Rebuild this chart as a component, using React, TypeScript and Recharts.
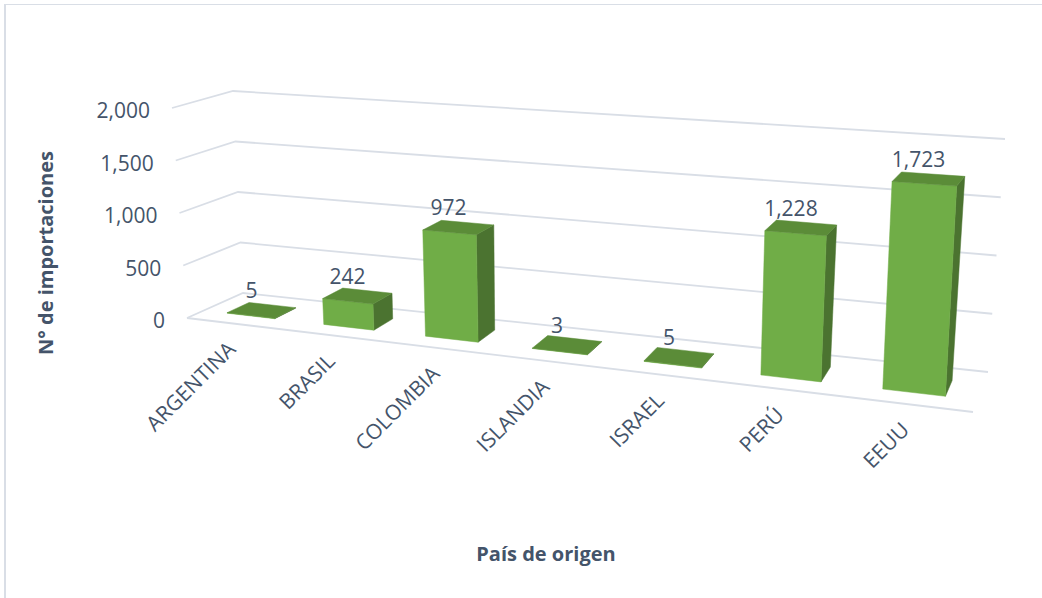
import React from 'react';
import { BarChart, Bar, XAxis, YAxis, CartesianGrid, LabelList } from 'recharts';

// ---------- data ----------
const countries = ['ARGENTINA', 'BRASIL', 'COLOMBIA', 'ISLANDIA', 'ISRAEL', 'PERÚ', 'EEUU'];
const imports = [5, 242, 972, 3, 5, 1228, 1723];
const yTicks = [0, 500, 1000, 1500, 2000];
const xTitle = 'País de origen';
const yTitle = 'N° de importaciones';

const data = countries.map((c, i) => ({ country: c, value: imports[i] }));

// ---------- layout ----------
const W = 1042;
const H = 598;
const AX = 2; // axis thickness reserved by recharts
const M = { top: 100, right: 100, bottom: 100 - AX, left: 100 - AX };
const PL = 100;
const PT = 100;
const PW = W - 200;
const PH = H - 200;

type Pt = [number, number];
// perspective box corners (front/back, bottom/top, left/right)
const F0L: Pt = [187, 318];
const F0R: Pt = [973, 412];
const F1L: Pt = [172, 108];
const F1R: Pt = [986, 161];
const B0L: Pt = [243, 293];
const B0R: Pt = [988, 372];
const B1L: Pt = [233, 91];
const B1R: Pt = [1005, 139];
const WARP = 0.16;
const D0 = 0.3;
const D1 = 0.7;

const TEXT = '#44546A';
const GRID = '#D9DEE6';
const FONT = '"Open Sans", "Noto Sans", sans-serif';
const FRONT = '#70AD47';
const TOP = '#5B8C38';
const SIDE = '#4B7330';

const lerp = (a: Pt, b: Pt, t: number): Pt => [a[0] + (b[0] - a[0]) * t, a[1] + (b[1] - a[1]) * t];
function proj(s: number, v: number, d: number): Pt {
  const t = s - WARP * s * (1 - s);
  const f0 = lerp(F0L, F0R, t);
  const f1 = lerp(F1L, F1R, t);
  const b0 = lerp(B0L, B0R, t);
  const b1 = lerp(B1L, B1R, t);
  const f = lerp(f0, f1, v);
  const b = lerp(b0, b1, v);
  return lerp(f, b, d);
}
const sOf = (x: number) => (x - PL) / PW;
const vOf = (y: number) => (PT + PH - y) / PH;
const pts = (arr: Pt[]) => arr.map((p) => `${p[0].toFixed(2)},${p[1].toFixed(2)}`).join(' ');
const fmt = (n: number) => Number(n).toLocaleString('en-US');

const GridLine = (props: any) => {
  const v = vOf(Number(props.y1));
  const a = proj(0, v, 0);
  const b = proj(0, v, 1);
  const c = proj(1, v, 1);
  const isFloor = Math.abs(v) < 1e-6;
  return (
    <g key={`g-${props.index}`}>
      <polyline points={pts([a, b, c])} fill="none" stroke={GRID} strokeWidth={1.8} />
      {isFloor && <polyline points={pts([a, proj(1, 0, 0)])} fill="none" stroke={GRID} strokeWidth={1.8} />}
    </g>
  );
};

const YTick = (props: any) => {
  const v = vOf(Number(props.y));
  const p = proj(0, v, 0);
  return (
    <text x={p[0] - 22} y={p[1] + 2} textAnchor="end" dominantBaseline="central" fill={TEXT} fontSize={21} fontFamily={FONT}>
      {fmt(props.payload.value)}
    </text>
  );
};

const XTick = (props: any) => {
  const p = proj(sOf(Number(props.x)), 0, 0);
  const ax = p[0] + 2;
  const ay = p[1] + 27;
  return (
    <text x={ax} y={ay} textAnchor="end" transform={`rotate(-45 ${ax} ${ay})`} fill={TEXT} fontSize={21} fontFamily={FONT}>
      {props.payload.value}
    </text>
  );
};

const Box3D = (props: any) => {
  const x = Number(props.x);
  const y = Number(props.y);
  const w = Number(props.width);
  const h = Number(props.height);
  const s0 = sOf(x);
  const s1 = sOf(x + w);
  const v = vOf(y);
  const v0 = vOf(y + h);
  const front = [proj(s0, v0, D0), proj(s1, v0, D0), proj(s1, v, D0), proj(s0, v, D0)];
  const side = [proj(s1, v0, D0), proj(s1, v0, D1), proj(s1, v, D1), proj(s1, v, D0)];
  const top = [proj(s0, v, D0), proj(s1, v, D0), proj(s1, v, D1), proj(s0, v, D1)];
  return (
    <g>
      <polygon points={pts(side)} fill={SIDE} stroke={SIDE} strokeWidth={0.5} />
      <polygon points={pts(front)} fill={FRONT} stroke={FRONT} strokeWidth={0.5} />
      <polygon points={pts(top)} fill={TOP} stroke={TOP} strokeWidth={0.5} />
    </g>
  );
};

const TopLabel = (props: any) => {
  const x = Number(props.x);
  const y = Number(props.y);
  const w = Number(props.width);
  const p = proj(sOf(x + w / 2), vOf(y), 0.5);
  return (
    <text x={p[0] - 10} y={p[1] - 20} textAnchor="middle" dominantBaseline="central" fill={TEXT} fontSize={21} fontFamily={FONT}>
      {fmt(props.value)}
    </text>
  );
};

export default function App() {
  return (
    <div style={{ position: 'absolute', left: 0, top: 0, width: W, height: H, background: '#fff', overflow: 'hidden' }}>
      <div
        style={{
          position: 'absolute',
          left: 4,
          top: 4,
          width: W + 20,
          height: H + 20,
          borderLeft: `2px solid ${GRID}`,
          borderTop: `1.5px solid ${GRID}`,
        }}
      />
      <div style={{ position: 'absolute', left: 0, top: 0 }}>
        <BarChart width={W} height={H} data={data} margin={M} barCategoryGap="25%">
          <CartesianGrid vertical={false} horizontal={GridLine as any} />
          <XAxis dataKey="country" height={AX} axisLine={false} tickLine={false} interval={0} tick={XTick as any} />
          <YAxis width={AX} domain={[0, 2000]} ticks={yTicks} interval={0} axisLine={false} tickLine={false} tick={YTick as any} />
          <Bar dataKey="value" shape={Box3D as any} isAnimationActive={false}>
            <LabelList dataKey="value" content={TopLabel as any} />
          </Bar>
          <text x={546} y={553} textAnchor="middle" dominantBaseline="central" fill={TEXT} fontSize={20} fontWeight={700} fontFamily={FONT}>
            {xTitle}
          </text>
          <text x={45} y={253} textAnchor="middle" dominantBaseline="central" fill={TEXT} fontSize={20} fontWeight={700} fontFamily={FONT} transform="rotate(-90 45 253)">
            {yTitle}
          </text>
        </BarChart>
      </div>
    </div>
  );
}
